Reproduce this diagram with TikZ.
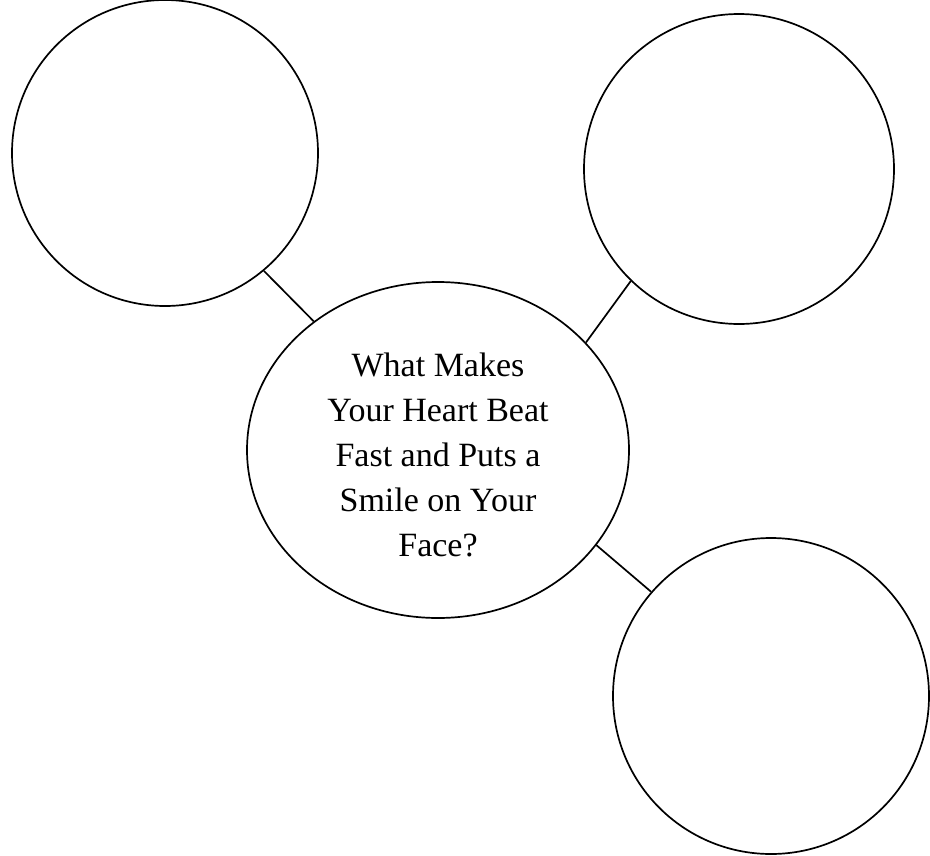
\documentclass[tikz,border=0pt]{standalone}
\usepackage{fontspec}
\setmainfont{Liberation Serif}
\usetikzlibrary{shapes.geometric}
\begin{document}
\begin{tikzpicture}[x=1pt,y=-1pt,
  bubble/.style={draw=black,line width=1.7pt,circle,inner sep=0pt},
  hub/.style={draw=black,line width=1.7pt,ellipse,inner sep=0pt},
  link/.style={draw=black,line width=1.7pt},
  hubtext/.style={align=center,font=\fontsize{34}{45}\selectfont,inner sep=0pt}]
\useasboundingbox (0,0) rectangle (930,855);
\node[bubble,minimum size=306pt] (tl) at (165,153) {};
\node[bubble,minimum size=310pt] (tr) at (739,169) {};
\node[bubble,minimum size=316pt] (br) at (771,696) {};
\node[hub,minimum width=382pt,minimum height=336pt] (c) at (438,450) {};
\node[hubtext] (q) at (438,455) {What Makes\\Your Heart Beat\\Fast and Puts a\\Smile on Your\\Face?};
\draw[link] (tl.-50.8) -- (c.134.5);
\draw[link] (tr.-134) -- (c.36.2);
\draw[link] (c.-31) -- (br.139.8);
\end{tikzpicture}
\end{document}
